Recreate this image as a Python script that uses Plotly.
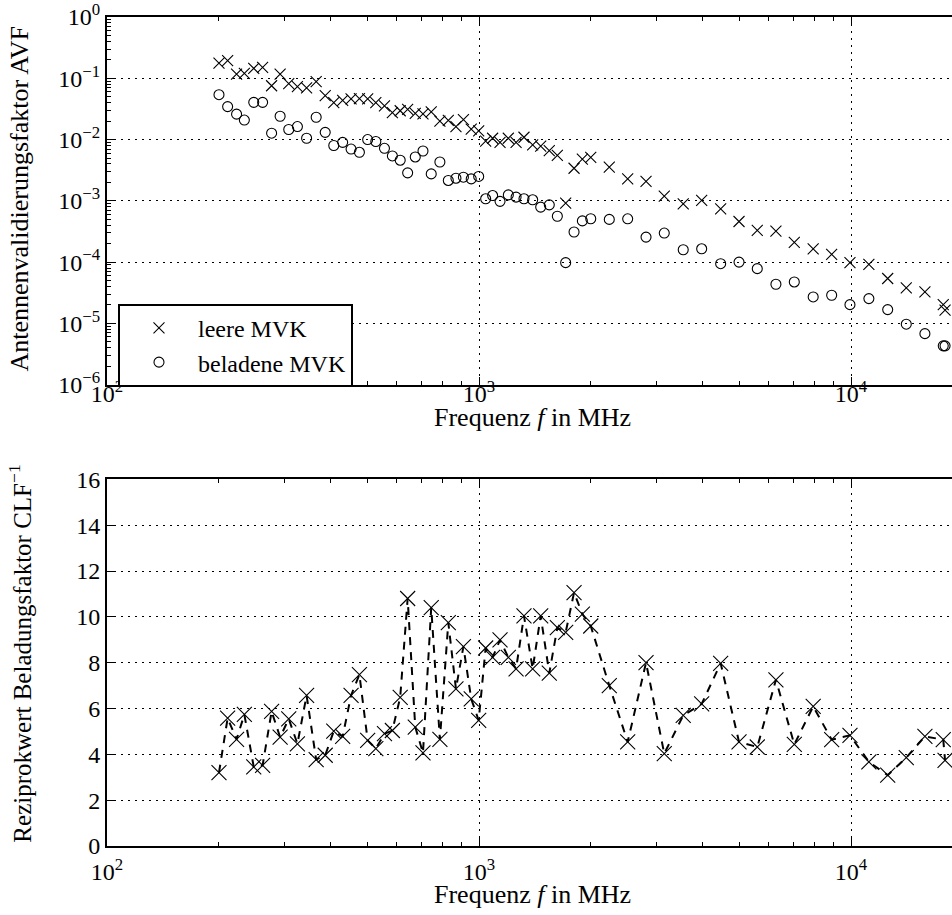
import plotly.graph_objects as go

# ---------------- data ----------------
freq_mhz = [200, 211, 223, 234, 248, 262, 277, 292, 308, 325, 344, 365, 386, 407, 430, 453,
            477, 502, 528, 557, 585, 614, 643, 674, 707, 744, 785, 827, 867, 908, 953, 998,
            1042, 1088, 1139, 1199, 1258, 1321, 1394, 1465, 1545, 1624, 1710, 1801, 1896, 1997,
            2240, 2510, 2812, 3148, 3540, 3968, 4463, 5000, 5598, 6283, 7040, 7913, 8872, 9936,
            11170, 12550, 14080, 15800, 17700, 17900]

avf_leer = [0.177, 0.194, 0.117, 0.120, 0.145, 0.151, 0.0755, 0.117, 0.082, 0.073, 0.070, 0.088,
            0.052, 0.040, 0.0435, 0.046, 0.0465, 0.046, 0.040, 0.0355, 0.0275, 0.0295, 0.031,
            0.0268, 0.0263, 0.0284, 0.0200, 0.0205, 0.0162, 0.0211, 0.0148, 0.0138, 0.0094,
            0.0105, 0.0090, 0.0105, 0.0090, 0.0109, 0.0082, 0.0078, 0.0066, 0.0055, 0.00092,
            0.0034, 0.0048, 0.0051,
            0.00354, 0.00228, 0.00207, 0.00119, 0.00089, 0.00102, 0.00074, 0.00046, 0.00033,
            0.00032, 0.00021, 0.000165, 0.000134, 0.000098, 0.000092, 0.000054, 0.000038,
            0.0000326, 0.0000202, 0.0000164]

avf_beladen = [0.054, 0.0345, 0.026, 0.0208, 0.0405, 0.0405, 0.0127, 0.024, 0.0146, 0.0163, 0.0105, 0.0231,
               0.0131, 0.0080, 0.0090, 0.0070, 0.0062, 0.0100, 0.0093, 0.0072, 0.0054, 0.0046, 0.00286,
               0.0052, 0.0065, 0.00275, 0.0043, 0.00215, 0.00234, 0.00243, 0.00228, 0.0025,
               0.00108, 0.00122, 0.00098, 0.00125, 0.00115, 0.00108, 0.00104, 0.00079, 0.00086,
               0.00056, 0.000098, 0.00031, 0.00047, 0.00051,
               0.000498, 0.000509, 0.000256, 0.000298, 0.000159, 0.000165, 0.0000942, 0.0001,
               0.0000782, 0.0000435, 0.0000474, 0.000027, 0.0000288, 0.0000202, 0.0000254,
               0.0000168, 0.0000097, 0.0000068, 0.0000043, 0.0000043]

clf_inv = [3.2, 5.58, 4.65, 5.74, 3.45, 3.52, 5.87, 4.75, 5.55, 4.46, 6.57, 3.77, 3.96, 5.01, 4.78,
           6.57, 7.48, 4.61, 4.25, 4.9, 5.04, 6.49, 10.8, 5.19, 4.06, 10.4, 4.65, 9.75, 6.86, 8.7,
           6.42, 5.48, 8.64,
           8.23, 8.99, 8.23, 7.73, 10.04, 7.73, 10.04, 7.54, 9.53, 9.32, 11.06, 10.12, 9.6,
           7.0, 4.54, 8.0, 4.03, 5.7, 6.2, 7.97, 4.54, 4.32, 7.25, 4.43, 6.09, 4.64, 4.83, 3.67,
           3.09, 3.86, 4.78, 4.64, 3.74]

x_major = [100, 1000, 10000]
x_major_text = ["10<sup>2</sup>", "10<sup>3</sup>", "10<sup>4</sup>"]
x_minor = [m * d for d in (100, 1000, 10000) for m in range(2, 10)]

y1_major = [1e-6, 1e-5, 1e-4, 1e-3, 1e-2, 1e-1, 1]
y1_major_text = ["10<sup>−6</sup>", "10<sup>−5</sup>", "10<sup>−4</sup>", "10<sup>−3</sup>",
                 "10<sup>−2</sup>", "10<sup>−1</sup>", "10<sup>0</sup>"]
y1_minor = [m * 10.0 ** e for e in range(-6, 0) for m in range(2, 10)]

y2_major = [0, 2, 4, 6, 8, 10, 12, 14, 16]

# ---------------- figure ----------------
FONT = "Liberation Serif"
TICK = 24
TXT = 26
fig = go.Figure()

fig.add_trace(go.Scatter(
    x=freq_mhz, y=avf_leer, mode="markers", name="leere MVK",
    marker=dict(symbol="x-thin", size=11, color="black", line=dict(width=1.1, color="black")),
    xaxis="x", yaxis="y"))
fig.add_trace(go.Scatter(
    x=freq_mhz, y=avf_beladen, mode="markers", name="beladene MVK",
    marker=dict(symbol="circle-open", size=10, color="black", line=dict(width=1.1, color="black")),
    xaxis="x", yaxis="y"))
fig.add_trace(go.Scatter(
    x=freq_mhz, y=clf_inv, mode="lines+markers", showlegend=False,
    line=dict(color="black", width=2, dash="8px,7px"),
    marker=dict(symbol="x-thin", size=15, color="black", line=dict(width=1.1, color="black")),
    xaxis="x2", yaxis="y2"))

xr = [2, 2 + 845 / 372]
top_dom = [0.5565, 1.0]
bot_dom = [0.0, 0.4423]

common_x = dict(type="log", range=xr, tickmode="array", tickvals=x_major, ticktext=x_major_text,
                ticks="inside", ticklen=8, tickwidth=1, tickcolor="black",
                showline=True, linewidth=2, linecolor="black", mirror="allticks",
                showgrid=True, gridcolor="black", gridwidth=1, griddash="2px,5px",
                minor=dict(tickvals=x_minor, ticks="inside", ticklen=4, tickwidth=1,
                           tickcolor="black", showgrid=False),
                ticklabeloverflow="allow",
                tickfont=dict(family=FONT, size=TICK, color="black"), zeroline=False)

common_y = dict(ticks="inside", ticklen=8, tickwidth=1, tickcolor="black",
                showline=True, linewidth=2, linecolor="black",
                showgrid=True, gridcolor="black", gridwidth=1, griddash="2px,5px",
                ticklabeloverflow="allow",
                tickfont=dict(family=FONT, size=TICK, color="black"), zeroline=False)

fig.update_layout(
    width=952, height=915,
    margin=dict(l=107, r=0, t=14, b=69),
    paper_bgcolor="white", plot_bgcolor="white",
    font=dict(family=FONT, size=TXT, color="black"),
    xaxis=dict(**common_x, anchor="y", domain=[0, 1], ticklabelstandoff=-13),
    xaxis2=dict(**common_x, anchor="y2", domain=[0, 1], ticklabelstandoff=3),
    yaxis=dict(**common_y, type="log", domain=top_dom, range=[-6, 0], anchor="x",
               tickmode="array", tickvals=y1_major, ticktext=y1_major_text,
               minor=dict(tickvals=y1_minor, ticks="inside", ticklen=4, tickwidth=1,
                          tickcolor="black", showgrid=False)),
    yaxis2=dict(**common_y, domain=bot_dom, range=[0, 16], anchor="x2",
                tickmode="array", tickvals=y2_major),
    legend=dict(x=0.013, y=0.654, xanchor="left", yanchor="top",
                bordercolor="black", borderwidth=2, bgcolor="white",
                font=dict(family=FONT, size=24, color="black"),
                itemwidth=68, tracegroupgap=0),
    showlegend=True,
)

fig.add_annotation(text="Antennenvalidierungsfaktor AVF", textangle=-90,
                   xref="paper", yref="paper", x=-0.103, y=0.781,
                   xanchor="center", yanchor="middle", showarrow=False,
                   font=dict(family=FONT, size=TXT, color="black"))
fig.add_annotation(text="Reziprokwert Beladungsfaktor CLF<sup>−1</sup>", textangle=-90,
                   xref="paper", yref="paper", x=-0.103, y=0.232,
                   xanchor="center", yanchor="middle", showarrow=False,
                   font=dict(family=FONT, size=25, color="black"))
fig.add_annotation(text="Frequenz <i>f</i> in MHz",
                   xref="paper", yref="paper", x=0.504, y=0.517,
                   xanchor="center", yanchor="middle", showarrow=False,
                   font=dict(family=FONT, size=TXT, color="black"))
fig.add_annotation(text="Frequenz <i>f</i> in MHz",
                   xref="paper", yref="paper", x=0.504, y=-0.059,
                   xanchor="center", yanchor="middle", showarrow=False,
                   font=dict(family=FONT, size=TXT, color="black"))

fig.write_html("out.html")
